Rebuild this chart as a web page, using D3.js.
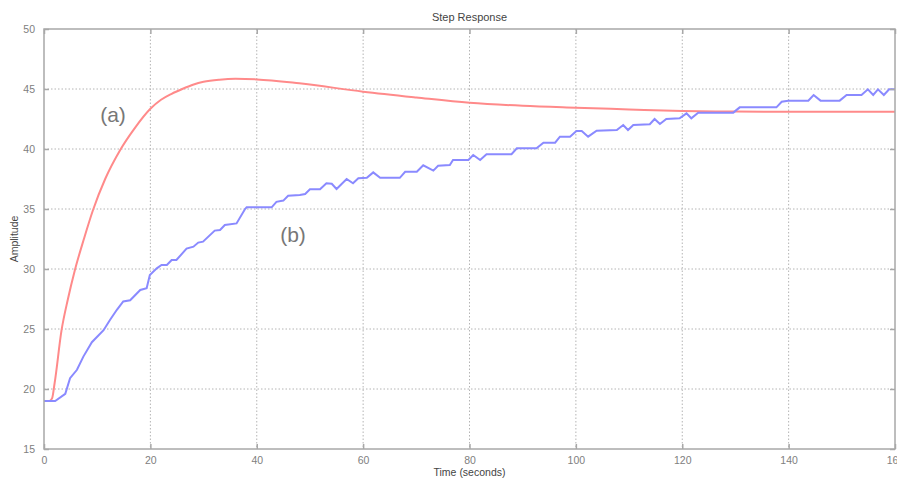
<!DOCTYPE html>
<html>
<head>
<meta charset="utf-8">
<script src="https://cdn.jsdelivr.net/npm/d3@7"></script>
<style>
  body { margin: 0; background: #fff; }
  text { font-family: "Liberation Sans", Arial, sans-serif; }
</style>
</head>
<body>
<div class="Canvas"></div>
<script>
// Axis ticks
const xTicks = [0, 20, 40, 60, 80, 100, 120, 140, 160];
const yTicks = [15, 20, 25, 30, 35, 40, 45, 50];

// Curve (a)
const timeA = [0, 1, 1.5, 2, 3.3, 4.5, 5.8, 7.5, 9.2, 11.5, 14.3, 17, 20, 22, 24, 26, 28, 30, 33, 36, 40, 48, 60, 70, 80, 90, 100, 110, 120, 130, 140, 160];
const ampA  = [19, 19, 19.2, 20.5, 24.9, 27.5, 29.9, 32.5, 34.9, 37.5, 39.9, 41.7, 43.35, 44.1, 44.6, 45.0, 45.35, 45.6, 45.78, 45.85, 45.8, 45.47, 44.78, 44.3, 43.86, 43.6, 43.44, 43.3, 43.17, 43.12, 43.1, 43.1];

// Curve (b)
const timeB = [0, 2.1, 4.0, 4.9, 6.2, 7.4, 9.0, 11.2, 12.4, 13.7, 14.9, 16.2, 18.1, 19.3, 19.9, 21.2, 22.1, 23.1, 24.0, 24.9, 26.8, 28.1, 29.0, 29.9, 32.1, 33.1, 34.0, 36.2, 37.8, 38.1, 42.8, 43.7, 45.0, 45.9, 48.1, 49.1, 50.0, 51.9, 53.1, 54.1, 55.0, 56.9, 58.1, 59.1, 60.7, 61.9, 63.2, 66.9, 67.9, 70.1, 71.3, 73.2, 74.1, 76.3, 76.9, 79.8, 80.7, 82.0, 83.2, 87.9, 88.9, 92.6, 93.9, 96.1, 97.0, 98.9, 100.1, 101.1, 102.3, 103.9, 107.7, 108.9, 109.8, 110.8, 113.9, 114.8, 115.8, 117.0, 119.5, 120.8, 121.7, 123.0, 129.6, 130.8, 137.7, 138.7, 139.9, 143.7, 144.7, 146.0, 149.6, 150.9, 153.7, 154.9, 155.9, 156.8, 157.9, 158.9, 160];
const ampB  = [19, 19.0, 19.6, 20.9, 21.6, 22.7, 23.9, 24.9, 25.75, 26.6, 27.3, 27.4, 28.25, 28.4, 29.5, 30.05, 30.33, 30.33, 30.75, 30.75, 31.7, 31.86, 32.2, 32.28, 33.2, 33.25, 33.67, 33.8, 35.0, 35.14, 35.14, 35.6, 35.7, 36.1, 36.17, 36.25, 36.64, 36.64, 37.14, 37.1, 36.67, 37.5, 37.14, 37.56, 37.6, 38.05, 37.6, 37.6, 38.1, 38.1, 38.64, 38.2, 38.6, 38.67, 39.08, 39.08, 39.5, 39.08, 39.56, 39.56, 40.06, 40.06, 40.53, 40.53, 41.03, 41.03, 41.5, 41.5, 41.03, 41.53, 41.58, 42.0, 41.58, 42.0, 42.06, 42.5, 42.08, 42.5, 42.56, 42.97, 42.56, 43.03, 43.03, 43.47, 43.47, 43.94, 44.03, 44.03, 44.5, 44.03, 44.03, 44.5, 44.5, 44.97, 44.5, 44.97, 44.5, 44.97, 44.97];

const width = 897, height = 482;
const margin = { top: 29, right: 2, bottom: 33, left: 44 };
const innerW = width - margin.left - margin.right;
const innerH = height - margin.top - margin.bottom;
const tickLen = 5;

const svg = d3.select('.Canvas').append('svg')
    .attr('width', width)
    .attr('height', height);

const x = d3.scaleLinear().domain([0, 160]).range([0, innerW]);
const y = d3.scaleLinear().domain([15, 50]).range([innerH, 0]);

const g = svg.append('g').attr('transform', `translate(${margin.left},${margin.top})`);

svg.append('defs').append('clipPath').attr('id', 'plotClip')
    .append('rect').attr('width', innerW).attr('height', innerH);

// Dotted grid
g.append('g').selectAll('line.vgrid')
    .data(xTicks.slice(1, -1))
    .enter().append('line')
    .attr('x1', d => x(d)).attr('x2', d => x(d))
    .attr('y1', 0).attr('y2', innerH)
    .attr('stroke', '#b4b4b4').attr('stroke-width', 1)
    .attr('stroke-dasharray', '1.5,2');
g.append('g').selectAll('line.hgrid')
    .data(yTicks.slice(1, -1))
    .enter().append('line')
    .attr('x1', 0).attr('x2', innerW)
    .attr('y1', d => y(d)).attr('y2', d => y(d))
    .attr('stroke', '#b4b4b4').attr('stroke-width', 1)
    .attr('stroke-dasharray', '1.5,2');

// Curves: (a) is smooth, (b) is a jagged staircase
const smoothLine = d3.line().x(d => x(d[0])).y(d => y(d[1])).curve(d3.curveMonotoneX);
const line = d3.line().x(d => x(d[0])).y(d => y(d[1]));
const plot = g.append('g').attr('clip-path', 'url(#plotClip)');
plot.append('path')
    .datum(timeA.map((t, i) => [t, ampA[i]]))
    .attr('d', smoothLine)
    .attr('fill', 'none').attr('stroke', '#ff8a8a').attr('stroke-width', 2);
plot.append('path')
    .datum(timeB.map((t, i) => [t, ampB[i]]))
    .attr('d', line)
    .attr('fill', 'none').attr('stroke', '#8a8aff').attr('stroke-width', 2);

// Box and inward ticks on all sides
g.append('rect')
    .attr('width', innerW).attr('height', innerH)
    .attr('fill', 'none').attr('stroke', '#a8a8a8').attr('stroke-width', 1.5);

const axisStyle = sel => {
    sel.select('.domain').remove();
    sel.selectAll('.tick line').attr('stroke', '#a8a8a8').attr('stroke-width', 1.5);
    sel.selectAll('.tick text').attr('fill', '#808080').attr('font-size', '10.5px')
        .attr('font-family', '"Liberation Sans", Arial, sans-serif');
};

g.append('g').attr('transform', `translate(0,${innerH})`)
    .call(d3.axisBottom(x).tickValues(xTicks).tickSizeInner(-tickLen).tickPadding(8).tickFormat(d3.format('d')))
    .call(axisStyle);
g.append('g')
    .call(d3.axisTop(x).tickValues(xTicks).tickSizeInner(-tickLen).tickFormat(''))
    .call(axisStyle);
g.append('g')
    .call(d3.axisLeft(y).tickValues(yTicks).tickSizeInner(-tickLen).tickPadding(9).tickFormat(d3.format('d')))
    .call(axisStyle);
g.append('g').attr('transform', `translate(${innerW},0)`)
    .call(d3.axisRight(y).tickValues(yTicks).tickSizeInner(-tickLen).tickFormat(''))
    .call(axisStyle);

// Titles
svg.append('text')
    .attr('x', margin.left + innerW / 2).attr('y', 21)
    .attr('text-anchor', 'middle').attr('font-size', '11px').attr('fill', '#444')
    .text('Step Response');
svg.append('text')
    .attr('x', margin.left + innerW / 2).attr('y', 476)
    .attr('text-anchor', 'middle').attr('font-size', '10.5px').attr('fill', '#444')
    .text('Time (seconds)');
svg.append('text')
    .attr('transform', `translate(18,${margin.top + innerH / 2}) rotate(-90)`)
    .attr('text-anchor', 'middle').attr('font-size', '10.5px').attr('fill', '#444')
    .text('Amplitude');

// Curve labels
svg.append('text')
    .attr('x', 113).attr('y', 122)
    .attr('text-anchor', 'middle').attr('font-size', '21px').attr('fill', '#777')
    .text('(a)');
svg.append('text')
    .attr('x', 293).attr('y', 242)
    .attr('text-anchor', 'middle').attr('font-size', '21px').attr('fill', '#777')
    .text('(b)');
</script>
</body>
</html>
